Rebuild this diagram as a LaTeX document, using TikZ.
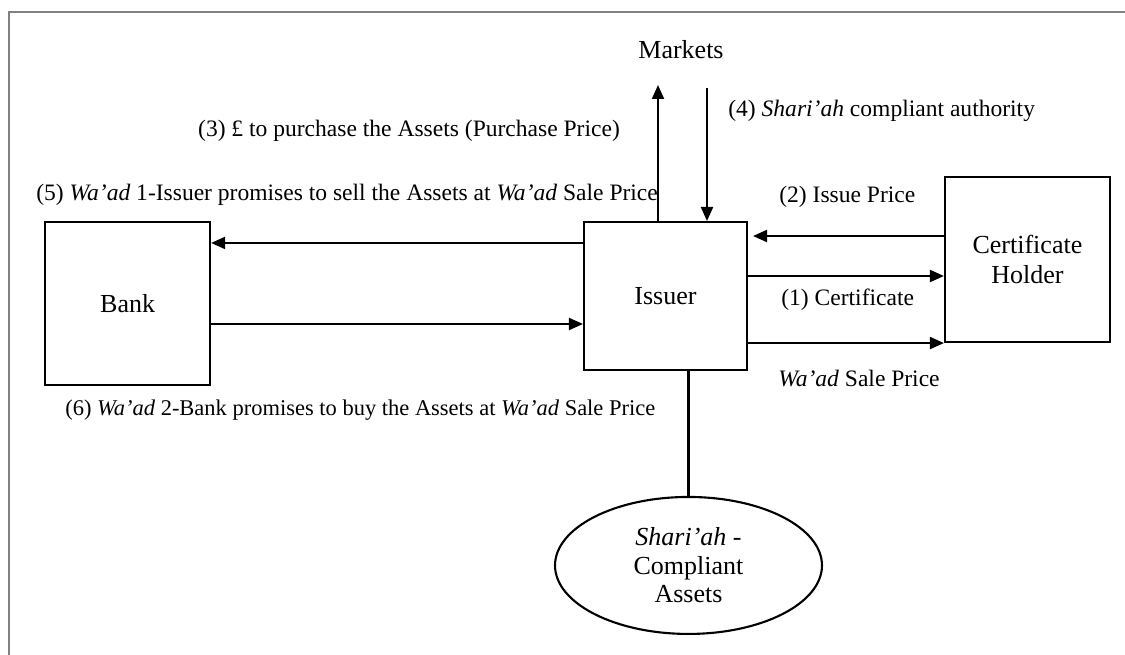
\documentclass[tikz,border=0pt]{standalone}
\usepackage{fontspec}
\setmainfont{Liberation Serif}
\usepackage{tikz}
\usetikzlibrary{arrows.meta}
\usetikzlibrary{positioning,shapes}
\tikzset{
    mybox/.style={rectangle,draw=black,line width=1.2pt,text centered,font=\fontsize{14.8}{17.5}\selectfont},
    myellipse/.style={ellipse,draw=black,line width=1.2pt,text centered,font=\fontsize{14.8}{16.3}\selectfont,minimum width=5.34cm,minimum height=2.74cm,inner sep=0pt},
    myarrow/.style={->, line width=1.2pt},
    myline/.style={line width=1.4pt},
    mylabel/.style={font=\fontsize{13.4}{16}\selectfont, inner sep=0pt}
}
\begin{document}
\begin{tikzpicture}[>={Triangle[length=0.28cm,width=0.24cm]},x=0.02cm,y=-0.02cm,on grid]
    \useasboundingbox (0,0) rectangle (1125,655);
    \draw[gray, line width=1.4pt] (9,655) -- (9,12) -- (1125,12);
    \node[mybox, minimum width=3.26cm, minimum height=2.96cm] (issuer) at (665.5,296) {Issuer};
    \node[mybox, minimum width=3.3cm, minimum height=3.26cm] (bank) [below left=0.15cm and 10.76cm of issuer] {Bank};
    \node[mybox, minimum width=3.3cm, minimum height=3.3cm, align=center] (holder) [above right=0.73cm and 7.24cm of issuer] {Certificate\\Holder};
    \node[myellipse, align=center] (assets) [below right=5.39cm and 0.46cm of issuer] {\textit{Shari’ah} -\\Compliant\\Assets};
    \node[font=\fontsize{14.8}{17.5}\selectfont] (markets) [above right=4.92cm and 0.31cm of issuer] {Markets};
    \coordinate (up) at (658,85);
    \coordinate (down) at (707,88);
    % labels
    \node[mylabel] (l3) at (409,131) {(3) £ to purchase the Assets (Purchase Price)};
    \node[mylabel, anchor=west] (l5) at (36,195) {(5) \textit{Wa’ad} 1-Issuer promises to sell the Assets at \textit{Wa’ad} Sale Price};
    \node[mylabel, anchor=west] (l4) at (728,111) {(4) \textit{Shari’ah} compliant authority};
    \node[mylabel, anchor=west] (l2) at (779,197) {(2) Issue Price};
    \node[mylabel, anchor=west] (l1) at (781,300) {(1) Certificate};
    \node[mylabel, anchor=west] (lw) at (778,379) {\textit{Wa’ad} Sale Price};
    \node[mylabel, anchor=west, font=\fontsize{12.8}{16}\selectfont] (l6) at (65,410) {(6) \textit{Wa’ad} 2-Bank promises to buy the Assets at \textit{Wa’ad} Sale Price};
    % connectors
    \draw[myarrow] (issuer.north -| up) -- (up);
    \draw[myarrow] (down) -- (issuer.north -| down);
    \draw[myarrow] ([yshift=-0.44cm]issuer.north west) -- ([yshift=-0.44cm]bank.north east |- issuer.north);
    \draw[myarrow] ([yshift=-0.41cm]bank.east) -- ([yshift=-0.41cm]issuer.west |- bank.east);
    \draw[myarrow, shorten >=0.1cm] ([yshift=0.47cm]holder.west) -- ([yshift=0.47cm]issuer.east |- holder.west);
    \draw[myarrow] ([yshift=-0.33cm]issuer.east |- holder.west) -- ([yshift=-0.33cm]holder.west);
    \draw[myarrow] (issuer.east |- holder.south west) -- (holder.south west);
    \draw[myline] (assets.north) -- (assets.north |- issuer.south);
\end{tikzpicture}
\end{document}
